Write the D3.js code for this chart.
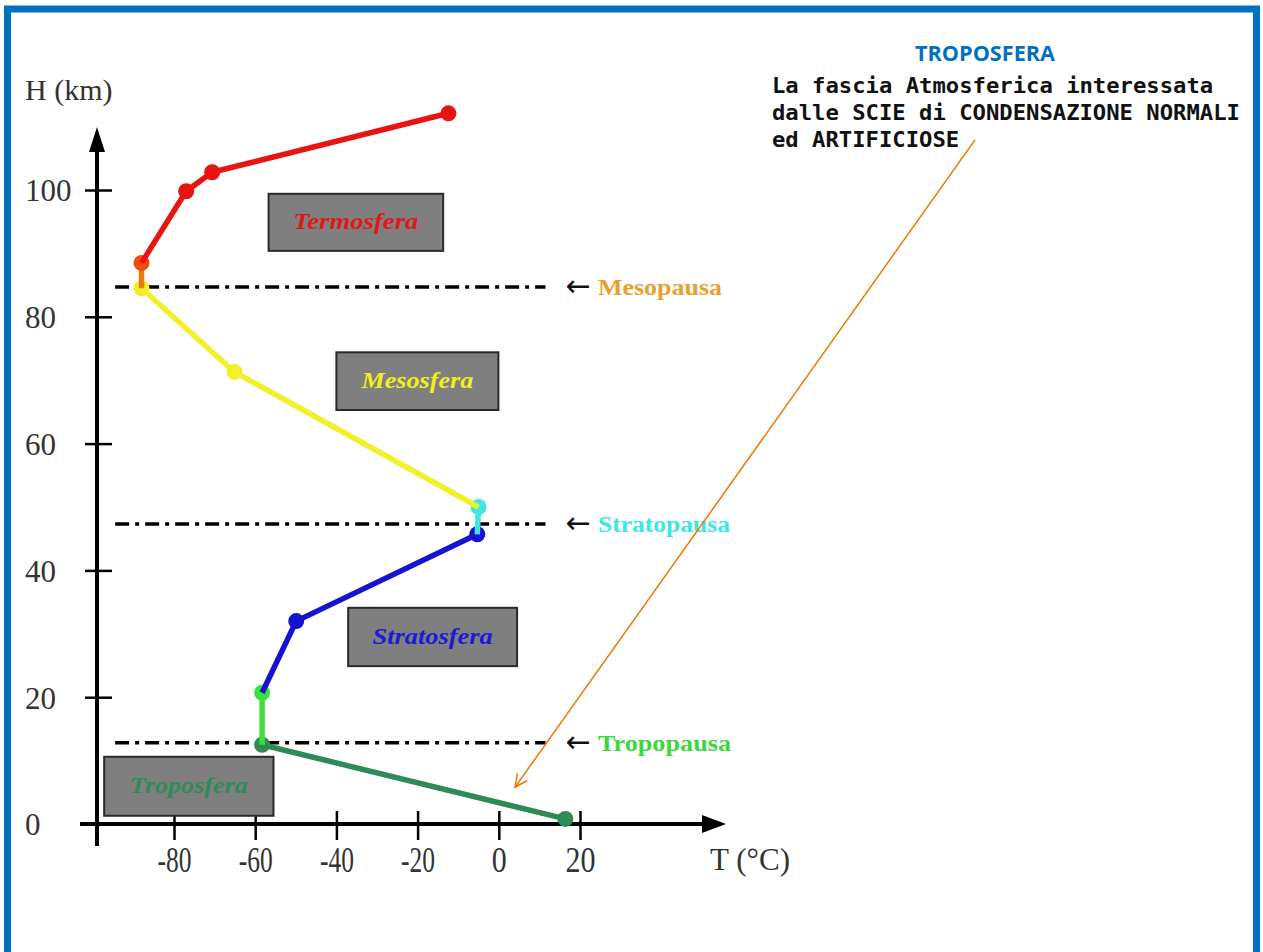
<!DOCTYPE html>
<html><head><meta charset="utf-8">
<script src="https://cdn.jsdelivr.net/npm/d3@7"></script>
<style>html,body{margin:0;padding:0;background:#fff}svg{display:block}</style>
</head><body>
<script>
// ---- data ----
const yTicks = [0, 20, 40, 60, 80, 100];
const xTicks = [-80, -60, -40, -20, 0, 20];
// [T (°C), H (km)] per segment
const segTroposfera = [[16.4, 0.8], [-58.3, 12.5]];
const segTropoTop   = [[-58.3, 12.5], [-58.3, 20.7]];
const segStratosfera= [[-58.3, 20.7], [-49.9, 32.0], [-5.3, 45.7]];
const segStratoTop  = [[-5.3, 45.7], [-5.0, 50.0]];
const segMesosfera  = [[-5.0, 50.0], [-65.1, 71.3], [-88.0, 84.5]];
const segMesoTop    = [[-88.0, 84.5], [-88.0, 88.5]];
const segTermosfera = [[-88.0, 88.5], [-77.0, 99.8], [-70.6, 102.8], [-12.4, 112.1]];
const pauseNames  = ["Mesopausa", "Stratopausa", "Tropopausa"];
const pauseHeights = [84.7, 47.3, 12.8];
const layerNames = ["Termosfera", "Mesosfera", "Stratosfera", "Troposfera"];
const layerT = [[-56.7, -13.7], [-40.0, -0.1], [-37.1, 4.5], [-97.2, -55.5]];
const layerH = [[99.4, 90.4], [74.4, 65.3], [34.1, 24.9], [10.6, 1.3]];
const noteLines = ["La fascia Atmosferica interessata", "dalle SCIE di CONDENSAZIONE NORMALI", "ed ARTIFICIOSE"];

const W = 1263, H = 952;
const svg = d3.select("body").append("svg").attr("width", W).attr("height", H);

// border
svg.append("rect").attr("x", 7.5).attr("y", 9).attr("width", 1249).attr("height", 960)
  .attr("fill", "none").attr("stroke", "#0070c0").attr("stroke-width", 7);

const x = d3.scaleLinear().domain([-80, 20]).range([174, 580]);
const y = d3.scaleLinear().domain([0, 100]).range([824, 190]);
const axX = 97;

// axes
const g = svg.append("g");
g.append("line").attr("x1", axX).attr("x2", axX).attr("y1", 846).attr("y2", 145)
  .attr("stroke", "#000").attr("stroke-width", 4);
g.append("path").attr("d", `M${axX},127 L${axX-8},152 L${axX+8},152 Z`).attr("fill", "#000");
g.append("line").attr("x1", 80).attr("x2", 708).attr("y1", y(0)).attr("y2", y(0))
  .attr("stroke", "#000").attr("stroke-width", 4);
g.append("path").attr("d", `M726,${y(0)} L702,${y(0)-9} L702,${y(0)+9} Z`).attr("fill", "#000");

const yAxis = d3.axisLeft(y).tickValues(yTicks).tickSize(0).tickFormat(d => String(d));
const ya = svg.append("g").attr("transform", `translate(${axX},0)`).call(yAxis);
ya.select(".domain").remove();
ya.selectAll(".tick line").attr("x1", -12).attr("x2", 15).attr("stroke", "#000").attr("stroke-width", 2.5);
ya.selectAll(".tick text").attr("x", -72).attr("text-anchor", "start").attr("dy", "0.35em")
  .attr("font-family", "Liberation Serif").attr("font-size", 31).attr("fill", "#333");

const xAxis = d3.axisBottom(x).tickValues(xTicks).tickSize(0).tickFormat(d => String(d));
const xa = svg.append("g").attr("transform", `translate(0,${y(0)})`).call(xAxis);
xa.select(".domain").remove();
xa.selectAll(".tick line").attr("y1", -13).attr("y2", 16).attr("stroke", "#000").attr("stroke-width", 2.5);
xa.selectAll(".tick text").attr("y", 48).attr("dy", 0)
  .attr("font-family", "Liberation Serif").attr("font-size", 36).attr("fill", "#333")
  .attr("textLength", d => d < 0 ? 34 : (d === 0 ? 15 : 30)).attr("lengthAdjust", "spacingAndGlyphs");

svg.append("text").attr("x", 25).attr("y", 100).text("H (km)")
  .attr("font-family", "Liberation Serif").attr("font-size", 30).attr("fill", "#333");
svg.append("text").attr("x", 710).attr("y", 870).text("T (°C)")
  .attr("font-family", "Liberation Serif").attr("font-size", 32).attr("fill", "#333")
  .attr("textLength", 80).attr("lengthAdjust", "spacingAndGlyphs");

// pause dashed lines
svg.append("g").selectAll("line").data(pauseHeights).join("line")
  .attr("x1", x(-94.5)).attr("x2", x(11.5)).attr("y1", d => y(d)).attr("y2", d => y(d))
  .attr("stroke", "#000").attr("stroke-width", 3.5).attr("stroke-dasharray", "14,6,4,6");

const pauseColors = ["#e8a030", "#3ee6e6", "#3cd83c"];
const pauseLens = [124, 132, 133];
const pl = svg.append("g").selectAll("g").data(pauseHeights).join("g");
pl.append("text").attr("x", x(16.5)).attr("y", d => y(d) + 9).text("←")
  .attr("font-family", "DejaVu Sans").attr("font-size", 30).attr("fill", "#111");
pl.append("text").attr("x", 598).attr("y", d => y(d) + 8).text((d, i) => pauseNames[i])
  .attr("font-family", "Liberation Serif").attr("font-weight", "bold").attr("font-size", 24)
  .attr("fill", (d, i) => pauseColors[i]).attr("textLength", (d, i) => pauseLens[i]).attr("lengthAdjust", "spacingAndGlyphs");

// layer boxes
const layerColors = ["#e01818", "#f0f020", "#1a1ad8", "#2e8b57"];
const layerLens = [125, 112, 120, 118];
const lb = svg.append("g").selectAll("g").data(layerNames).join("g");
lb.append("rect").attr("x", (d, i) => x(layerT[i][0])).attr("y", (d, i) => y(layerH[i][0]))
  .attr("width", (d, i) => x(layerT[i][1]) - x(layerT[i][0]))
  .attr("height", (d, i) => y(layerH[i][1]) - y(layerH[i][0]))
  .attr("fill", "#7f7f7f").attr("stroke", "#2a2a2a").attr("stroke-width", 2);
lb.append("text").attr("x", (d, i) => (x(layerT[i][0]) + x(layerT[i][1])) / 2)
  .attr("y", (d, i) => (y(layerH[i][0]) + y(layerH[i][1])) / 2 + 7)
  .attr("text-anchor", "middle").text(d => d)
  .attr("font-family", "Liberation Serif").attr("font-style", "italic").attr("font-weight", "bold")
  .attr("font-size", 23).attr("fill", (d, i) => layerColors[i])
  .attr("textLength", (d, i) => layerLens[i]).attr("lengthAdjust", "spacingAndGlyphs");

// series
const line = d3.line().x(d => x(d[0])).y(d => y(d[1]));
const series = [
  {pts: segTroposfera, color: "#2e8b57", mk: "#2e8b57"},
  {pts: segTropoTop, color: "#3ee03e", mk: "#3ee03e"},
  {pts: segStratosfera, color: "#1414d0", mk: "#1414d0"},
  {pts: segStratoTop, color: "#3ee6e6", mk: "#3ee6e6"},
  {pts: segMesosfera, color: "#f2f02a", mk: "#f2f02a"},
  {pts: segMesoTop, color: "#e87a10", mk: "#f04a10"},
  {pts: segTermosfera, color: "#e81414", mk: "#e81414"}
];
const sg = svg.append("g").selectAll("g").data(series).join("g");
sg.append("path").attr("d", d => line(d.pts)).attr("fill", "none")
  .attr("stroke", d => d.color).attr("stroke-width", 5.5).attr("stroke-linejoin", "round");
sg.selectAll("circle").data(d => d.pts.slice(1).map(p => ({p, c: d.mk}))).join("circle")
  .attr("cx", d => x(d.p[0])).attr("cy", d => y(d.p[1])).attr("r", 8).attr("fill", d => d.c);
svg.append("circle").attr("cx", x(segTroposfera[0][0])).attr("cy", y(segTroposfera[0][1]))
  .attr("r", 8).attr("fill", "#2e8b57");

// annotation
svg.append("text").attr("x", 985).attr("y", 61).attr("text-anchor", "middle").text("TROPOSFERA")
  .attr("font-family", "Open Sans").attr("font-weight", "bold").attr("font-size", 21).attr("fill", "#0070c0")
  .attr("textLength", 140).attr("lengthAdjust", "spacingAndGlyphs");
svg.append("g").selectAll("text").data(noteLines).join("text")
  .attr("x", 772).attr("y", (d, i) => 93 + i * 27).text(d => d)
  .attr("font-family", "DejaVu Sans Mono").attr("font-weight", "bold").attr("font-size", 21).attr("fill", "#111")
  .attr("textLength", d => d.length * 13.37).attr("lengthAdjust", "spacingAndGlyphs");

// orange arrow
const a0 = [x(117.3), y(107.9)], a1 = [x(4.0), y(5.8)];
svg.append("line").attr("x1", a0[0]).attr("y1", a0[1]).attr("x2", a1[0]).attr("y2", a1[1])
  .attr("stroke", "#f07800").attr("stroke-width", 1.5);
const ang = Math.atan2(a1[1] - a0[1], a1[0] - a0[0]);
const hl = 14, hw = 0.45;
svg.append("path").attr("d",
  `M${a1[0] - hl*Math.cos(ang - hw)},${a1[1] - hl*Math.sin(ang - hw)} L${a1[0]},${a1[1]} L${a1[0] - hl*Math.cos(ang + hw)},${a1[1] - hl*Math.sin(ang + hw)}`)
  .attr("fill", "none").attr("stroke", "#f07800").attr("stroke-width", 1.5);
</script>
</body></html>
